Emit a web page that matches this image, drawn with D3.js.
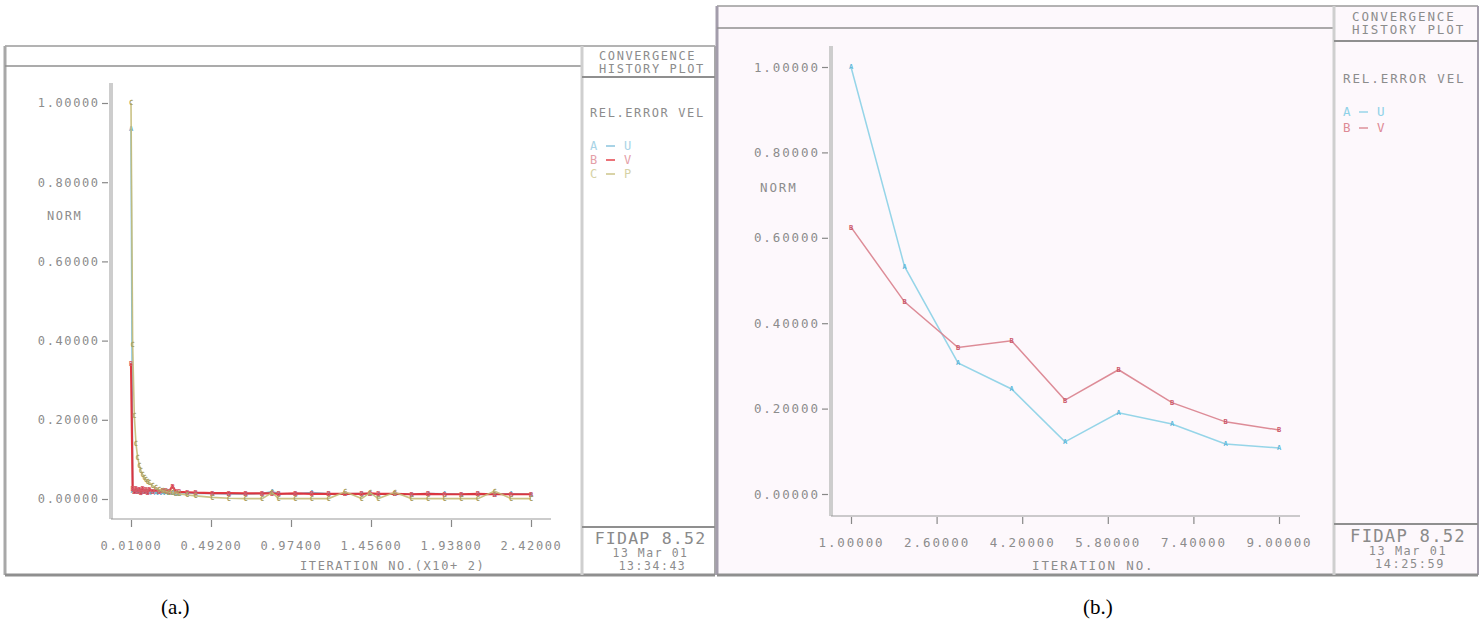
<!DOCTYPE html>
<html>
<head>
<meta charset="utf-8">
<script src="https://cdn.jsdelivr.net/npm/d3@7"></script>
<style>
  body { margin: 0; background: #fff; }
  text { font-family: "DejaVu Sans Mono", monospace; fill: #8c8c8c; }
  .caption { font-family: "Liberation Serif", "Times New Roman", serif; fill: #000; font-size: 21px; }
</style>
</head>
<body>
<div id="chart"></div>
<script>
// ---- panel (a): 242 iterations (sparse)
const iterA = [1, 2, 3, 4, 5, 6, 7, 8, 9, 10, 11, 12, 14, 16, 18, 20, 22, 24, 26, 28, 30, 35, 40, 50, 60, 70, 80, 86, 90, 100, 110, 120, 130, 140, 145, 150, 160, 170, 180, 190, 200, 210, 220, 230, 242];
const uA = [0.935, 0.022, 0.020, 0.019, 0.021, 0.018, 0.020, 0.019, 0.018, 0.019, 0.018, 0.017, 0.018, 0.017, 0.016, 0.017, 0.016, 0.016, 0.017, 0.015, 0.015, 0.015, 0.014, 0.014, 0.013, 0.013, 0.014, 0.019, 0.014, 0.013, 0.016, 0.013, 0.013, 0.014, 0.013, 0.012, 0.013, 0.012, 0.014, 0.013, 0.012, 0.013, 0.012, 0.013, 0.012];
const vA = [0.343, 0.026, 0.018, 0.027, 0.020, 0.025, 0.016, 0.026, 0.019, 0.024, 0.017, 0.025, 0.020, 0.023, 0.019, 0.022, 0.021, 0.020, 0.032, 0.019, 0.018, 0.017, 0.016, 0.015, 0.015, 0.014, 0.014, 0.014, 0.013, 0.014, 0.013, 0.013, 0.013, 0.013, 0.014, 0.013, 0.013, 0.012, 0.013, 0.012, 0.012, 0.013, 0.012, 0.012, 0.012];
const pA = [1.000, 0.390, 0.210, 0.140, 0.105, 0.085, 0.072, 0.062, 0.055, 0.050, 0.045, 0.042, 0.034, 0.028, 0.024, 0.021, 0.019, 0.017, 0.016, 0.015, 0.013, 0.010, 0.008, 0.004, 0.002, 0.001, 0.001, 0.016, 0.001, 0.001, 0.001, 0.001, 0.018, 0.001, 0.016, 0.001, 0.017, 0.001, 0.001, 0.001, 0.001, 0.001, 0.020, 0.001, 0.001];
const xTicksA = [1, 49.2, 97.4, 145.6, 193.8, 242];

// ---- panel (b): 9 iterations
const iterB = [1, 2, 3, 4, 5, 6, 7, 8, 9];
const uB = [1.000, 0.533, 0.307, 0.246, 0.122, 0.190, 0.164, 0.117, 0.108];
const vB = [0.625, 0.450, 0.343, 0.359, 0.220, 0.291, 0.214, 0.169, 0.150];
const xTicksB = [1, 2.6, 4.2, 5.8, 7.4, 9];

const yTicks = [0, 0.2, 0.4, 0.6, 0.8, 1.0];
const fmt = d3.format(".5f");

const svg = d3.select("#chart").append("svg")
    .attr("width", 1482)
    .attr("height", 627);

function drawPanel(p) {
    let g = svg.append("g");

    // background + frame
    g.append("rect")
        .attr("x", p.x0).attr("y", p.y0)
        .attr("width", p.x1 - p.x0).attr("height", p.y1 - p.y0)
        .attr("fill", p.bg);

    let line = (x1, y1, x2, y2, c, w) => g.append("line")
        .attr("x1", x1).attr("y1", y1).attr("x2", x2).attr("y2", y2)
        .attr("stroke", c).attr("stroke-width", w);

    line(p.x0, p.y0, p.x1, p.y0, "#9a9a9a", 1.5);
    line(p.x0, p.y0, p.x0, p.y1, p.edge, 3);
    line(p.x1, p.y0, p.x1, p.y1, p.edge, 2);
    line(p.x0, p.y1, p.x1, p.y1, "#8f8f8f", 3);
    line(p.x0, p.hdr, p.div, p.hdr, "#8f8f8f", 1.5);
    line(p.div, p.y0, p.div, p.y1, "#cfcfcf", 3);
    line(p.div, p.rhdr, p.x1, p.rhdr, "#8f8f8f", 2);
    line(p.div, p.rbox, p.x1, p.rbox, "#8f8f8f", 2);

    // scales
    let x = d3.scaleLinear().domain(p.xDomain).range(p.xRange);
    let y = d3.scaleLinear().domain([0, 1]).range(p.yRange);

    // axis bars
    line(p.axX, p.axTop, p.axX, p.axY, "#cdcdcd", 4);
    line(p.axX, p.axY, p.axEnd, p.axY, "#9a9a9a", 1.2);

    let yAxis = g.append("g")
        .attr("transform", `translate(${p.axX - 3},0)`)
        .call(d3.axisLeft(y).tickValues(yTicks).tickFormat(fmt).tickSize(6).tickPadding(4).tickSizeOuter(0));
    let xAxis = g.append("g")
        .attr("transform", `translate(0,${p.axY + 1})`)
        .call(d3.axisBottom(x).tickValues(p.xTicks).tickFormat(p.xFmt).tickSize(7).tickPadding(14).tickSizeOuter(0));
    [yAxis, xAxis].forEach(a => {
        a.select(".domain").remove();
        a.selectAll("line").attr("stroke", "#888").attr("stroke-width", 1.2);
        a.selectAll("text").attr("fill", "#939393").attr("font-family", "DejaVu Sans Mono")
            .style("font-size", p.fs + "px").style("letter-spacing", p.ls + "px");
    });
    yAxis.selectAll("text").attr("dx", p.ls);

    // series: line + the FIDAP letter markers
    p.series.forEach(s => {
        let pts = p.iter.map((it, i) => [it, s.values[i]]);
        g.append("path")
            .datum(pts)
            .attr("fill", "none")
            .attr("stroke", s.color)
            .attr("stroke-width", s.width)
            .attr("stroke-opacity", 0.9)
            .attr("d", d3.line().x(d => x(d[0])).y(d => y(d[1])));
        g.selectAll(null)
            .data(pts)
            .enter()
            .append("text")
            .attr("x", d => x(d[0]))
            .attr("y", d => y(d[1]))
            .attr("dy", "0.35em")
            .attr("text-anchor", "middle")
            .style("font-size", "7px")
            .style("font-weight", "bold")
            .style("fill", s.mark)
            .text(s.key);
    });

    // texts
    let txt = (t, tx, ty, anchor, size, spacing, color) => g.append("text")
        .attr("x", tx).attr("y", ty)
        .attr("text-anchor", anchor || "start")
        .style("font-size", (size || p.fs) + "px")
        .style("letter-spacing", (spacing === undefined ? p.ls : spacing) + "px")
        .style("fill", color || "#8c8c8c")
        .text(t);

    let cx = (p.div + p.x1) / 2;
    txt("CONVERGENCE", p.tx, p.t1);
    txt("HISTORY PLOT", p.tx, p.t1 + 13);
    txt("REL.ERROR VEL", p.lx, p.relY);
    p.series.forEach((s, i) => {
        let ly = p.relY + 33 + i * p.legStep;
        txt(s.key, p.lx, ly, "start", p.fs, 0, s.legend);
        g.append("line")
            .attr("x1", p.lx + 16).attr("x2", p.lx + 25)
            .attr("y1", ly - 4).attr("y2", ly - 4)
            .attr("stroke", s.color).attr("stroke-width", 1.3);
        txt(s.name, p.lx + 34, ly, "start", p.fs, 0, s.legend);
    });
    txt("NORM", p.normX, p.normY);
    txt(p.xLabel, p.xlX, 570);
    txt("FIDAP 8.52", cx + 2, p.fidY, "middle", p.fs * 1.38, 1.2, "#8a8a8a");
    txt("13 Mar 01", cx + 2, p.fidY + 13, "middle", p.fs * 0.95, 1.6);
    txt(p.time, cx + 4, p.fidY + 26, "middle", p.fs * 0.95, 1.6);
}

drawPanel({
    x0: 5, y0: 46, x1: 715, y1: 575, hdr: 66, div: 582, rhdr: 77, rbox: 527,
    bg: "#ffffff", edge: "#a8a8a8",
    xDomain: [1, 242], xRange: [131, 531], yRange: [499, 103],
    axX: 111, axTop: 83, axY: 519, axEnd: 551,
    xTicks: xTicksA, xFmt: d => fmt(d / 100),
    iter: iterA,
    series: [
        { key: "A", name: "U", values: uA, color: "#79bcd9", mark: "#6aa9c8", legend: "#a8d3e6", width: 1.6 },
        { key: "B", name: "V", values: vA, color: "#e0262f", mark: "#d65b68", legend: "#e4a0a8", width: 2.2 },
        { key: "C", name: "P", values: pA, color: "#c4bb78", mark: "#aaa062", legend: "#d6d2a6", width: 1.6 }
    ],
    fs: 12, ls: 1.6, tx: 599, t1: 60, lx: 590, relY: 117, legStep: 14,
    normX: 47, normY: 220, xLabel: "ITERATION NO.(X10+ 2)", xlX: 300,
    fidY: 544, time: "13:34:43"
});

drawPanel({
    x0: 717, y0: 6, x1: 1478, y1: 575, hdr: 28, div: 1334, rhdr: 41, rbox: 524,
    bg: "#fdf8fc", edge: "#a39dab",
    xDomain: [1, 9], xRange: [851, 1279], yRange: [494, 67],
    axX: 831, axTop: 46, axY: 516, axEnd: 1300,
    xTicks: xTicksB, xFmt: fmt,
    iter: iterB,
    series: [
        { key: "A", name: "U", values: uB, color: "#8ad0e6", mark: "#5fb8da", legend: "#8fd2e8", width: 1.5 },
        { key: "B", name: "V", values: vB, color: "#d9808c", mark: "#cc5a6b", legend: "#dd8a96", width: 1.5 }
    ],
    fs: 12.5, ls: 1.9, tx: 1352, t1: 21, lx: 1343, relY: 83, legStep: 16,
    normX: 760, normY: 192, xLabel: "ITERATION NO.", xlX: 1032,
    fidY: 542, time: "14:25:59"
});

svg.append("text").attr("class", "caption").attr("x", 161).attr("y", 614).text("(a.)");
svg.append("text").attr("class", "caption").attr("x", 1083).attr("y", 614).text("(b.)");
</script>
</body>
</html>
